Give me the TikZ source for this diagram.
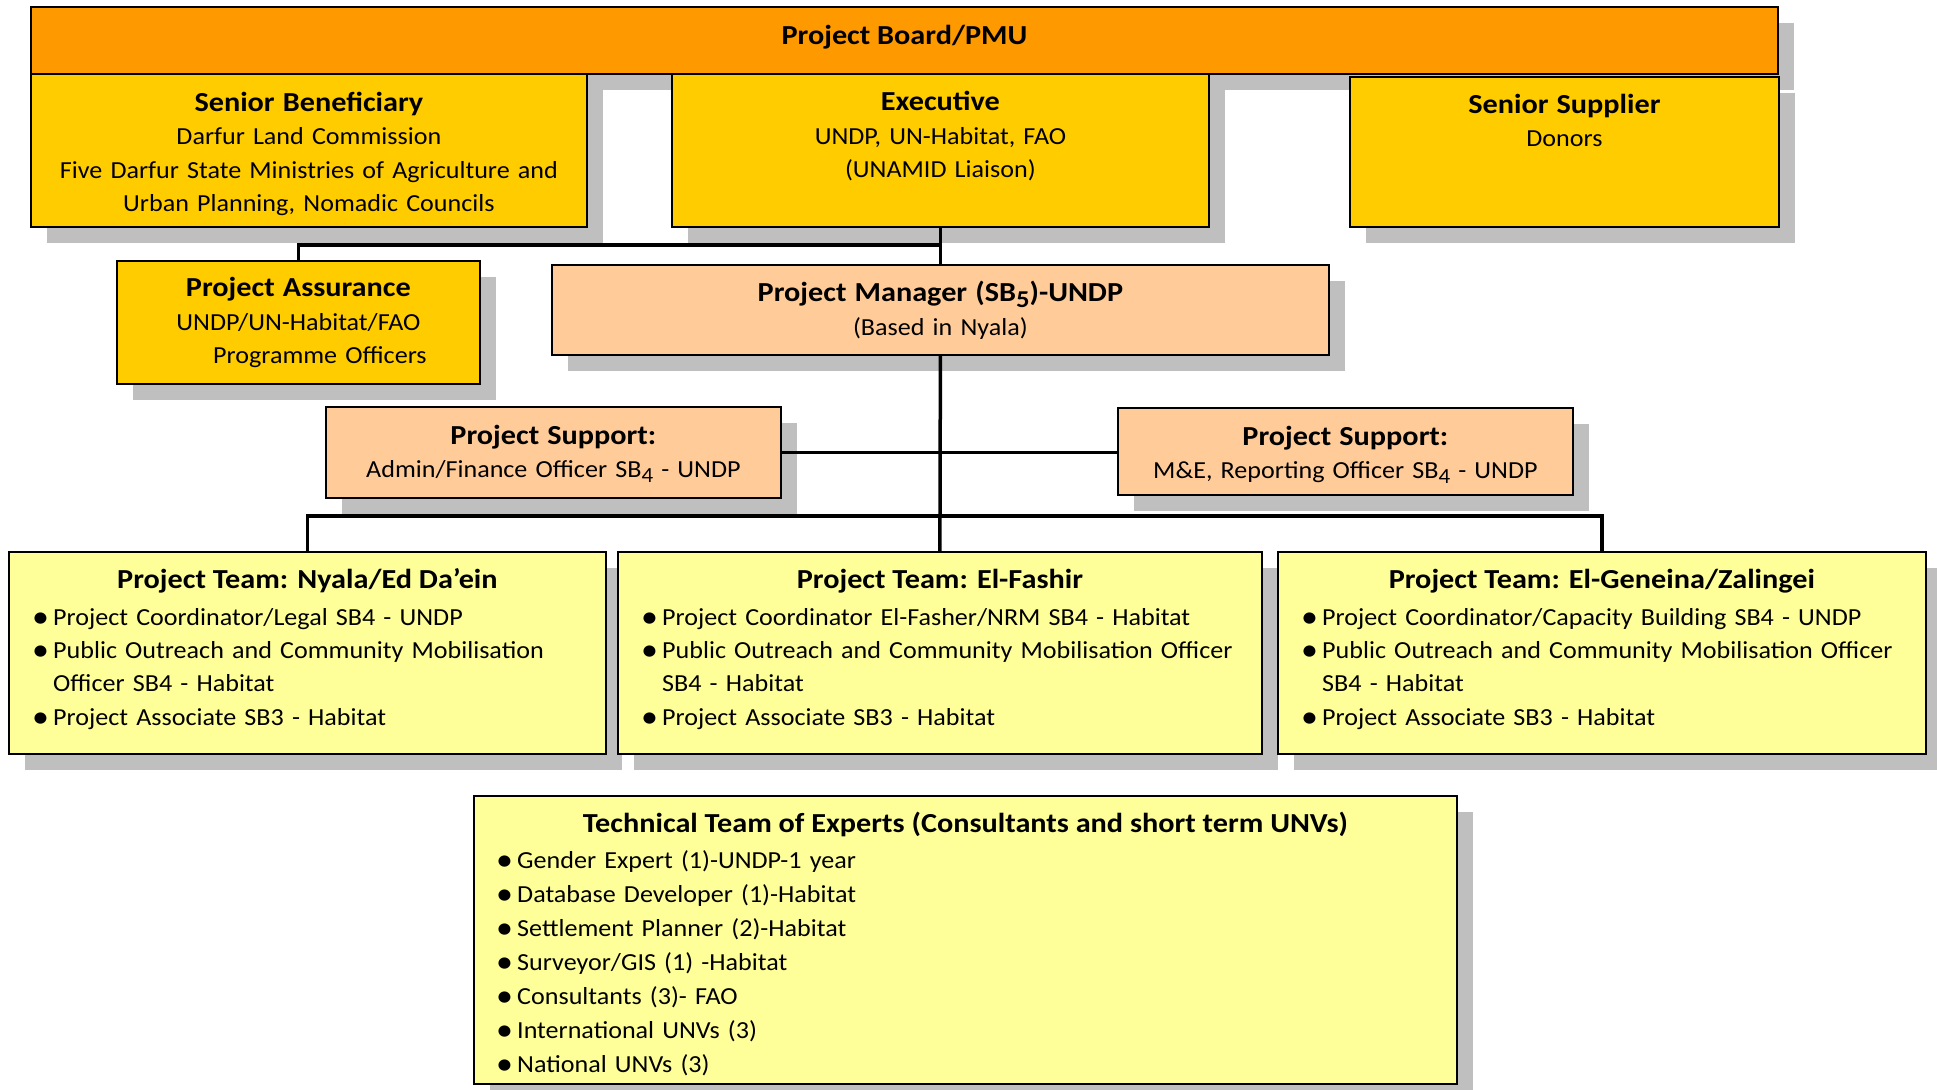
\documentclass[tikz,border=0pt]{standalone}
\usepackage{fontspec}
\usepackage{graphicx}
\setmainfont{Carlito}[FakeStretch=1.065, BoldFeatures={FakeStretch=1.1}]
\usetikzlibrary{calc,positioning,shadows}

\definecolor{boardorange}{HTML}{FF9900}
\definecolor{seniorgold}{HTML}{FFCC00}
\definecolor{managerpeach}{HTML}{FFCC99}
\definecolor{teamyellow}{HTML}{FFFF99}
\definecolor{shadowgrey}{HTML}{BFBFBF}

\newcommand{\bodysize}{\fontsize{24.5pt}{33.4pt}\selectfont}
\newcommand{\headsize}{\fontsize{27.5pt}{33.4pt}\selectfont\bfseries}
% hanging figure, as in SB5
\newcommand{\osf}[1]{\raisebox{-0.2em}{\scalebox{0.88}{#1}}}
\newcommand{\bul}[1]{\noindent\hangindent=23pt\hangafter=1\makebox[23pt][l]{\hspace{2pt}\raisebox{-0.1em}{\scalebox{1.3}{\textbullet}}}#1\par}

\tikzset{
  orgbox/.style={draw=black, line width=1.8pt, inner sep=0pt, anchor=north west,
    drop shadow={shadow xshift=16pt, shadow yshift=-16pt, fill=shadowgrey, opacity=1}},
  board/.style={orgbox, fill=boardorange},
  senior/.style={orgbox, fill=seniorgold},
  manager/.style={orgbox, fill=managerpeach},
  team/.style={orgbox, fill=teamyellow},
  headtext/.style={anchor=base, inner sep=0pt, font=\headsize},
  bodytext/.style={anchor=base, align=center, inner sep=0pt, font=\bodysize},
  duties/.style={anchor=base west, align=left, inner sep=0pt, font=\bodysize},
  link/.style={line width=3.5pt}
}

\begin{document}
\begin{tikzpicture}[x=1pt,y=-1pt]
\useasboundingbox (0,0) rectangle (1937,1089);

% boxes
\node[board, minimum width=1747pt, minimum height=67pt] (board) at (30,6) {};
\node[senior, minimum width=556pt, minimum height=153pt] (benef) at (30,73) {};
\node[senior, minimum width=537pt, minimum height=153pt] (exec) at (671,73) {};
\node[senior, minimum width=429pt, minimum height=150pt] (supplier) at (1349,76) {};
\node[senior, minimum width=363pt, minimum height=123pt] (assur) at (116,260) {};
\node[manager, minimum width=777pt, minimum height=90pt] (pm) at (551,264) {};
\node[manager, minimum width=455pt, minimum height=91pt] (psadmin) at (325,406) {};
\node[manager, minimum width=455pt, minimum height=87pt] (psme) at (1117,407) {};
\node[team, minimum width=597pt, minimum height=202pt] (nyala) at (8,551) {};
\node[team, minimum width=644pt, minimum height=202pt] (fashir) at (617,551) {};
\node[team, minimum width=648pt, minimum height=202pt] (geneina) at (1277,551) {};
\node[team, minimum width=983pt, minimum height=288pt] (experts) at (473,795) {};

% texts
\node[headtext] (boardT) at ($(board.north)+(0,39)$) {Project Board/PMU};
\node[bodytext, text width=556pt] (benefT) at ($(benef.north)+(0,38.5)$)
  {{\headsize Senior Beneficiary}\\Darfur Land Commission\\Five Darfur State Ministries of Agriculture and\\Urban Planning, Nomadic Councils};
\node[bodytext, text width=537pt] (execT) at ($(exec.north)+(0,38)$)
  {{\headsize Executive}\\UNDP, UN-Habitat, FAO\\(UNAMID Liaison)};
\node[bodytext, text width=429pt] (supplierT) at ($(supplier.north)+(0,37.3)$)
  {{\headsize Senior Supplier}\\Donors};
\node[bodytext, text width=363pt] (assurT) at ($(assur.north)+(0,36.7)$)
  {{\headsize Project Assurance}\\UNDP/UN-Habitat/FAO\\\hspace*{43pt}Programme Officers};
\node[bodytext, text width=777pt] (pmT) at ($(pm.north)+(0,37.7)$)
  {{\headsize Project Manager (SB\osf{5})-UNDP}\\(Based in Nyala)};
\node[bodytext, text width=455pt] (psadminT) at ($(psadmin.north)+(0,38)$)
  {{\headsize Project Support:}\\Admin/Finance Officer SB\osf{4} - UNDP};
\node[bodytext, text width=455pt] (psmeT) at ($(psme.north)+(0,38)$)
  {{\headsize Project Support:}\\M\&E, Reporting Officer SB\osf{4} - UNDP};

\node[headtext] (nyalaT) at ($(nyala.north)+(0,37.3)$) {Project Team: Nyala/Ed Da’ein};
\node[duties, text width=567pt] (nyalaL) at ($(nyala.north west)+(22,74)$)
  {\bul{Project Coordinator/Legal SB4 - UNDP}
   \bul{\mbox{Public Outreach and Community Mobilisation}\newline Officer SB4 - Habitat}
   \bul{Project Associate SB3 - Habitat}};
\node[headtext] (fashirT) at ($(fashir.north)+(0,37.3)$) {Project Team: El-Fashir};
\node[duties, text width=614pt] (fashirL) at ($(fashir.north west)+(22,74)$)
  {\bul{Project Coordinator El-Fasher/NRM SB4 - Habitat}
   \bul{\mbox{Public Outreach and Community Mobilisation Officer}\newline SB4 - Habitat}
   \bul{Project Associate SB3 - Habitat}};
\node[headtext] (geneinaT) at ($(geneina.north)+(0,37.3)$) {Project Team: El-Geneina/Zalingei};
\node[duties, text width=618pt] (geneinaL) at ($(geneina.north west)+(22,74)$)
  {\bul{Project Coordinator/Capacity Building SB4 - UNDP}
   \bul{\mbox{Public Outreach and Community Mobilisation Officer}\newline SB4 - Habitat}
   \bul{Project Associate SB3 - Habitat}};

\node[headtext] (expertsT) at ($(experts.north)+(0,37.3)$) {Technical Team of Experts (Consultants and short term UNVs)};
\node[duties, text width=950pt, font={\fontsize{24.5pt}{34pt}\selectfont}] (expertsL) at ($(experts.north west)+(21,73.3)$)
  {\bul{Gender Expert (1)-UNDP-1 year}
   \bul{Database Developer (1)-Habitat}
   \bul{Settlement Planner (2)-Habitat}
   \bul{Surveyor/GIS (1) -Habitat}
   \bul{Consultants (3)- FAO}
   \bul{International UNVs (3)}
   \bul{National UNVs (3)}};

% connectors
\coordinate (upjoin) at ($(exec.south)+(0,17)$);
\coordinate (teamjoin) at ($(fashir.north)+(0,-35)$);
\draw[link] (exec.south) -- (pm.north);
\draw[link] (assur.north) |- (upjoin);
\draw[link] (pm.south) -- (fashir.north);
\draw[link] (psadmin.east) -- (psadmin.east -| psme.west);
\draw[link] (nyala.north) |- (teamjoin) -| (geneina.north);
\end{tikzpicture}
\end{document}
